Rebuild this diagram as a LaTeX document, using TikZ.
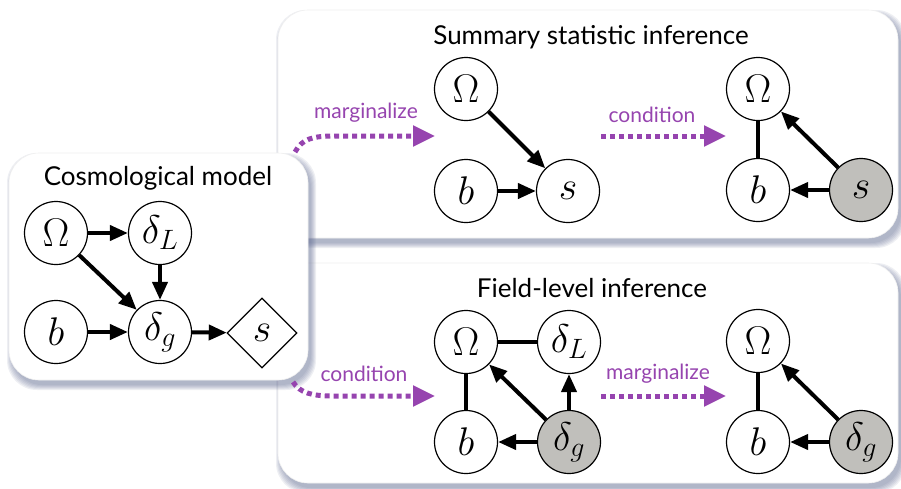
\RequirePackage{fix-cm}
\documentclass[tikz,border=0pt]{standalone}
\usepackage{fontspec}
\setsansfont{Lato}
\usetikzlibrary{arrows.meta,shapes.geometric}
\definecolor{purp}{RGB}{150,68,175}
\definecolor{obsgray}{RGB}{192,191,187}
\definecolor{shadowc}{RGB}{95,105,145}
\newcommand\softshadow[4]{%
  \foreach \k in {0,1,2,3,4,5}{%
    \fill[shadowc,fill opacity=0.1,rounded corners=30pt] (#1+3-\k,#2+5-\k) rectangle (#3+3+\k,#4+5+\k);}}
\tikzset{
  var/.style={circle,draw,line width=1.2pt,minimum size=63pt,inner sep=0pt,fill=white,font=\fontsize{40}{40}\selectfont},
  obs/.style={var,fill=obsgray},
  det/.style={diamond,draw,line width=1.2pt,minimum width=70pt,minimum height=70pt,inner sep=0pt,fill=white,font=\fontsize{40}{40}\selectfont},
  edge/.style={line width=4pt,-{Triangle[length=18pt,width=15pt]}},
  undir/.style={line width=4pt},
  op/.style={purp,line width=5pt,dash pattern=on 5pt off 4pt,-{Triangle[length=22pt,width=20pt]}},
  oplabel/.style={purp,font=\sffamily\fontsize{21}{21}\selectfont},
  paneltitle/.style={font=\sffamily\fontsize{26}{26}\selectfont},
  panel/.style={fill=white,draw=black!6,line width=0.6pt,rounded corners=30pt}
}
\begin{document}
\begin{tikzpicture}[x=1pt,y=-1pt]
\useasboundingbox (0,0) rectangle (901,488);
\fill[white] (0,0) rectangle (901,488);
% panels
\softshadow{278}{10}{898}{238}
\draw[panel] (278,10) rectangle (898,238);
\softshadow{278}{263}{898}{483}
\draw[panel] (278,263) rectangle (898,483);
\softshadow{9}{153}{308}{380}
\draw[panel] (9,153) rectangle (308,380);

% titles
\node[paneltitle] (t0) at (158,178) {Cosmological model};
\node[paneltitle] (t1) at (591,37) {Summary statistic inference};
\node[paneltitle] (t2) at (592,288) {Field-level inference};

% Cosmological model
\node[var] (O0) at (56,233) {$\Omega$};
\node[var] (L0) at (160,233) {$\delta_L$};
\node[var] (b0) at (56,332) {$b$};
\node[var] (g0) at (160,332) {$\delta_g$};
\node[det] (s0) at (262,333) {$s$};
\draw[edge] (O0) -- (L0);
\draw[edge] (L0) -- (g0);
\draw[edge] (O0) -- (g0);
\draw[edge] (b0) -- (g0);
\draw[edge] (g0) -- (s0);

% Summary statistic: marginalized
\node[var] (O1) at (466,89) {$\Omega$};
\node[var] (b1) at (466,191) {$b$};
\node[var] (s1) at (568,191) {$s$};
\draw[edge] (O1) -- (s1);
\draw[edge] (b1) -- (s1);

% Summary statistic: conditioned
\node[var] (O2) at (758,89) {$\Omega$};
\node[var] (b2) at (758,190) {$b$};
\node[obs] (s2) at (861,190) {$s$};
\draw[undir] (O2) -- (b2);
\draw[edge] (s2) -- (O2);
\draw[edge] (s2) -- (b2);

% Field level: conditioned
\node[var] (O3) at (466,342) {$\Omega$};
\node[var] (L3) at (569,342) {$\delta_L$};
\node[var] (b3) at (466,442) {$b$};
\node[obs] (g3) at (569,442) {$\delta_g$};
\draw[undir] (O3) -- (L3);
\draw[undir] (O3) -- (b3);
\draw[edge] (g3) -- (O3);
\draw[edge] (g3) -- (L3);
\draw[edge] (g3) -- (b3);

% Field level: marginalized
\node[var] (O4) at (758,341) {$\Omega$};
\node[var] (b4) at (758,442) {$b$};
\node[obs] (g4) at (861,442) {$\delta_g$};
\draw[undir] (O4) -- (b4);
\draw[edge] (g4) -- (O4);
\draw[edge] (g4) -- (b4);

% operation arrows
\coordinate (m1s) at (295,152);
\coordinate (m1k) at (335,136);
\coordinate (m1e) at (435,136);
\draw[op] (m1s) .. controls (302,139) and (312,136) .. (m1k) -- (m1e);
\node[oplabel] (m1l) at (366,113) {marginalize};

\coordinate (c1s) at (601,136);
\coordinate (c1e) at (726,136);
\draw[op] (c1s) -- (c1e);
\node[oplabel] (c1l) at (652,115) {condition};

\coordinate (c2s) at (293,382);
\coordinate (c2k) at (333,396);
\coordinate (c2e) at (435,396);
\draw[op] (c2s) .. controls (300,393) and (312,396) .. (c2k) -- (c2e);
\node[oplabel] (c2l) at (364,374) {condition};

\coordinate (m2s) at (601,396);
\coordinate (m2e) at (726,396);
\draw[op] (m2s) -- (m2e);
\node[oplabel] (m2l) at (658,374) {marginalize};
\end{tikzpicture}
\end{document}
